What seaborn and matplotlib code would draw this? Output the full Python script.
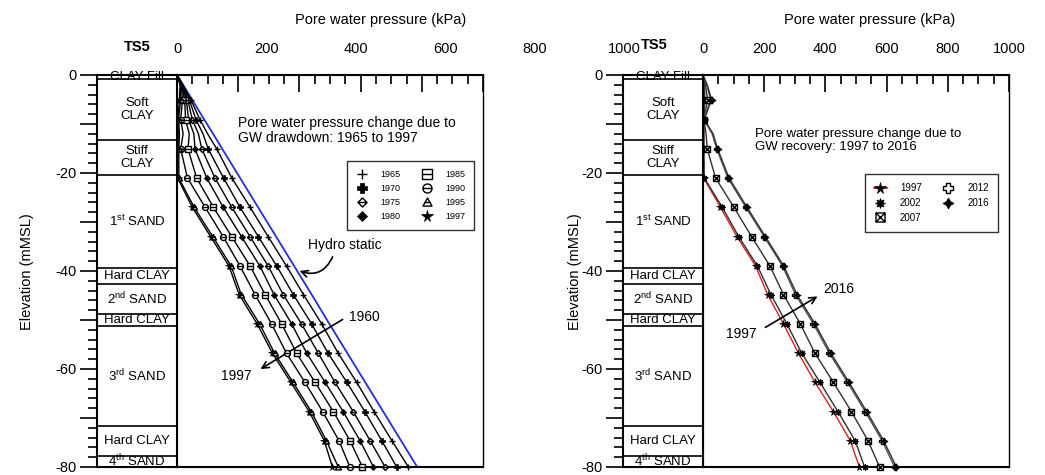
import matplotlib
matplotlib.use("Agg")
import matplotlib.pyplot as plt
from matplotlib.lines import Line2D
from matplotlib.path import Path
from matplotlib.ticker import MultipleLocator, FuncFormatter
import numpy as np
import pandas as pd
import seaborn as sns

# ---- data ----
depth = [0, -2, -5, -9.1, -12, -15.1, -21, -27, -33, -39, -44.8, -50.8,
         -56.8, -62.7, -68.7, -74.6, -80]
marked = [False, False, True, True, False, True, True, True, True, True,
          True, True, True, True, True, True, True]

hydro = [0, 20, 49, 89, 118, 148, 206, 265, 324, 383, 440, 498, 557, 615,
         674, 732, 785]

drawdown_years = [1965, 1970, 1975, 1980, 1985, 1990, 1995, 1997]
pwp_1965 = [0, 19, 45, 75, 100, 130, 179, 239, 298, 358, 413, 473, 527, 587, 644, 702, 756]
pwp_1970 = [0, 18, 40, 62, 85, 102, 152, 206, 266, 326, 380, 440, 494, 555, 614, 669, 718]
pwp_1975 = [0, 17, 35, 50, 70, 81, 124, 179, 239, 298, 347, 407, 462, 516, 576, 631, 680]
pwp_1980 = [0, 16, 30, 38, 55, 59, 97, 151, 211, 271, 317, 375, 424, 484, 543, 598, 642]
pwp_1985 = [0, 15, 25, 28, 40, 36, 64, 119, 179, 239, 288, 342, 391, 451, 511, 565, 606]
pwp_1990 = [0, 14, 18, 12, 20, 12, 34, 92, 151, 206, 255, 309, 358, 418, 476, 529, 565]
pwp_1995 = [0, 12, 12, 5, 8, 6, 6, 56, 117, 177, 210, 270, 319, 379, 439, 488, 527]
pwp_1997 = [0, 10, 8, 3, 4, 3, 2, 50, 110, 170, 203, 262, 312, 372, 432, 481, 508]

recovery_years = [1997, 2002, 2007, 2012, 2016]
rec_1997 = [0, 3, 4, 3, 2, 2, 2, 57, 111, 172, 211, 263, 312, 366, 426, 481, 511]
rec_2002 = [0, 5, 6, 3, 3, 3, 4, 63, 117, 178, 222, 274, 323, 382, 441, 497, 528]
rec_2007 = [0, 8, 15, 3, 10, 14, 41, 101, 159, 219, 263, 318, 366, 426, 485, 539, 577]
rec_2012 = [0, 12, 25, 3, 30, 45, 81, 140, 200, 260, 302, 361, 413, 472, 530, 585, 626]
rec_2016 = [0, 14, 28, 4, 33, 48, 85, 144, 204, 264, 307, 366, 418, 477, 535, 590, 632]

layer_bounds = [0, -0.8, -13.3, -20.4, -39.4, -42.7, -48.7, -51.3, -71.6, -77.7, -80]
layer_names = ["CLAY Fill", "Soft\nCLAY", "Stiff\nCLAY", r"1$^{\mathrm{st}}$ SAND",
               "Hard CLAY", r"2$^{\mathrm{nd}}$ SAND", "Hard CLAY",
               r"3$^{\mathrm{rd}}$ SAND", "Hard CLAY", r"4$^{\mathrm{th}}$ SAND"]

pwp_ticks = [0, 200, 400, 600, 800, 1000]

# ---- style ----
sns.set_theme(style="ticks", rc={
    "axes.edgecolor": "black", "text.color": "black", "axes.labelcolor": "black",
    "xtick.color": "black", "ytick.color": "black", "axes.unicode_minus": False,
})
plt.rcParams["font.family"] = ["Liberation Sans", "DejaVu Sans"]
plt.rcParams["mathtext.fontset"] = "custom"
plt.rcParams["mathtext.rm"] = "Liberation Sans"
plt.rcParams["mathtext.it"] = "Liberation Sans:italic"
plt.rcParams["mathtext.bf"] = "Liberation Sans:bold"

W, H = 1045, 475
TOP, BOT = 75, 467
fig = plt.figure(figsize=(W / 100, H / 100), dpi=100)


def barred(base, half):
    bar = Path([(-half, 0), (half, 0)], [Path.MOVETO, Path.LINETO])
    return Path.make_compound_path(base, bar)


square = Path([(-1, -1), (1, -1), (1, 1), (-1, 1), (-1, -1)], closed=True)
diamond = Path([(0, 1), (1, 0), (0, -1), (-1, 0), (0, 1)], closed=True)
triangle = Path([(0, 1), (1, -0.8), (-1, -0.8), (0, 1)], closed=True)
xsquare = Path.make_compound_path(
    square,
    Path([(-1, -1), (1, 1)], [Path.MOVETO, Path.LINETO]),
    Path([(-1, 1), (1, -1)], [Path.MOVETO, Path.LINETO]))

draw_marks = {
    1965: dict(marker="+", mfc="black", mew=1.0),
    1970: dict(marker="P", mfc="black", mew=0.5),
    1975: dict(marker=barred(diamond, 1), mfc="white", mew=1.0),
    1980: dict(marker="D", mfc="black", mew=0.5, ms_scale=0.75),
    1985: dict(marker=barred(square, 1), mfc="white", mew=1.0),
    1990: dict(marker=barred(Path.unit_circle(), 1), mfc="white", mew=1.0),
    1995: dict(marker=barred(triangle, 0.6), mfc="white", mew=1.0),
    1997: dict(marker="*", mfc="black", mew=0.5, ms_scale=1.3),
}
rec_marks = {
    1997: dict(marker="*", mfc="black", mew=0.5, ms_scale=1.3),
    2002: dict(marker=(8, 1, 0), mfc="black", mew=0.6, ms_scale=1.1),
    2007: dict(marker=xsquare, mfc="white", mew=1.0),
    2012: dict(marker="P", mfc="white", mew=1.0, ms_scale=1.1),
    2016: dict(marker=(4, 1, 0), mfc="black", mew=0.6, ms_scale=1.2),
}


def soil_column(rect, ax_main):
    sax = fig.add_axes(rect, sharey=ax_main)
    sax.set_xlim(0, 1)
    sax.set_xticks([])
    for b in layer_bounds[1:-1]:
        sax.axhline(b, color="black", lw=1.2)
    for top, bot, name in zip(layer_bounds[:-1], layer_bounds[1:], layer_names):
        sax.text(0.5, (top + bot) / 2, name, ha="center", va="center",
                 fontsize=9.5, linespacing=1.15)
    for s in sax.spines.values():
        s.set_linewidth(1.5)
    sax.yaxis.set_major_locator(MultipleLocator(10))
    sax.yaxis.set_minor_locator(MultipleLocator(2))
    sax.yaxis.set_major_formatter(
        FuncFormatter(lambda v, p: f"{v:.0f}" if round(v) % 20 == 0 else ""))
    sax.tick_params(axis="y", which="major", direction="out", length=12,
                    width=1.2, pad=3, labelsize=10.5)
    sax.tick_params(axis="y", which="minor", direction="out", length=6.5,
                    width=1.2)
    return sax


def main_axes(rect):
    ax = fig.add_axes(rect)
    ax.set_xlim(0, 1000)
    ax.set_ylim(-80, 0)
    ax.xaxis.tick_top()
    ax.xaxis.set_major_locator(MultipleLocator(200))
    ax.xaxis.set_minor_locator(MultipleLocator(50))
    ax.tick_params(axis="x", which="major", direction="in", length=12,
                   width=1.2, labeltop=False)
    ax.tick_params(axis="x", which="minor", direction="in", length=6.5,
                   width=1.2)
    ax.tick_params(axis="y", left=False, labelleft=False)
    for s in ax.spines.values():
        s.set_linewidth(1.0)
    ax.spines["top"].set_linewidth(1.5)
    ax.spines["left"].set_linewidth(1.5)
    ax.spines["bottom"].set_linewidth(1.5)
    return ax


def draw_profiles(ax, years, series, colors, marks, ms=4.3):
    df = pd.DataFrame({
        "depth": np.tile(depth, len(years)),
        "pwp": np.concatenate(series),
        "year": np.repeat(years, len(depth)),
    })
    sns.lineplot(data=df, x="pwp", y="depth", hue="year", palette=colors,
                 orient="y", sort=False, estimator=None, legend=False,
                 lw=1.0, ax=ax)
    handles = []
    for y, vals in zip(years, series):
        m = dict(marks[y])
        scale = m.pop("ms_scale", 1.0)
        px = [v for v, k in zip(vals, marked) if k]
        py = [d for d, k in zip(depth, marked) if k]
        ax.plot(px, py, ls="none", color="black", mec="black",
                ms=ms * scale, zorder=4, clip_on=False, **m)
        handles.append(Line2D([], [], ls="none", color="black", mec="black",
                              ms=6.5 * scale, label=str(y), **m))
    ax.set_xlabel("")
    ax.set_ylabel("")
    return handles


rect_h = (BOT - TOP) / H
rect_b = 1 - BOT / H

# ---- left panel: drawdown ----
axL = main_axes([177 / W, rect_b, 306 / W, rect_h])
soil_column([97 / W, rect_b, 80 / W, rect_h], axL)
sns.lineplot(x=hydro, y=depth, orient="y", sort=False, estimator=None,
             color="#1f2fe0", lw=1.3, ax=axL)
hL = draw_profiles(axL, drawdown_years,
                   [pwp_1965, pwp_1970, pwp_1975, pwp_1980, pwp_1985,
                    pwp_1990, pwp_1995, pwp_1997],
                   {y: "black" for y in drawdown_years}, draw_marks)
axL.set_xlim(0, 1000)
axL.set_ylim(-80, 0)

# tick labels of the left panel sit on a wider scale than the tick marks
lab = fig.add_axes([177 / W, 1 - TOP / H, 447 / W, 1e-4])
lab.set_xlim(0, 1000)
lab.xaxis.tick_top()
lab.set_xticks(pwp_ticks)
lab.tick_params(axis="x", length=0, pad=14, labelsize=10.5)
lab.set_yticks([])
for s in lab.spines.values():
    s.set_visible(False)
lab.patch.set_visible(False)

legL = axL.legend(handles=hL, ncol=2, loc="upper left",
                  bbox_to_anchor=(0.542, 0.792), fontsize=6.5,
                  frameon=True, fancybox=False, edgecolor="black",
                  handlelength=1.2, handletextpad=1.4, columnspacing=2.4,
                  labelspacing=0.55, borderpad=1.0)
legL.get_frame().set_linewidth(1.0)

axL.text(199, -11.3, "Pore water pressure change due to\nGW drawdown: 1965 to 1997",
         ha="left", va="center", fontsize=10, linespacing=1.1)
axL.text(428, -34.6, "Hydro static", ha="left", va="center", fontsize=10)
axL.annotate("", xy=(392, -39.8), xytext=(512, -36.6),
             arrowprops=dict(arrowstyle="->", lw=1.2, color="black",
                             connectionstyle="arc3,rad=-0.5"))
axL.text(611, -49.4, "1960", ha="center", va="center", fontsize=10)
axL.text(195, -61.4, "1997", ha="center", va="center", fontsize=10)
axL.annotate("", xy=(265, -60.3), xytext=(549, -49.6),
             arrowprops=dict(arrowstyle="->", lw=1.2, color="black"))

# ---- right panel: recovery ----
axR = main_axes([703 / W, rect_b, 306 / W, rect_h])
soil_column([623 / W, rect_b, 80 / W, rect_h], axR)
hR = draw_profiles(axR, recovery_years,
                   [rec_1997, rec_2002, rec_2007, rec_2012, rec_2016],
                   {1997: "#e0201a", 2002: "#303030", 2007: "#303030",
                    2012: "#555555", 2016: "#303030"}, rec_marks)
hR[0].set_linestyle("-")
hR[0].set_color("#e0201a")
hR[0].set_markerfacecolor("black")
hR[0].set_markeredgecolor("black")
axR.set_xlim(0, 1000)
axR.set_ylim(-80, 0)
axR.set_xticks(pwp_ticks)
axR.tick_params(axis="x", which="major", labeltop=True, pad=14, labelsize=10.5)

legR = axR.legend(handles=hR, ncol=2, loc="upper left",
                  bbox_to_anchor=(0.513, 0.759), fontsize=7,
                  frameon=True, fancybox=False, edgecolor="black",
                  handlelength=1.4, handletextpad=1.3, columnspacing=2.0,
                  labelspacing=0.5, borderpad=0.9)
legR.get_frame().set_linewidth(1.0)

axR.text(170, -13.3, "Pore water pressure change due to\nGW recovery: 1997 to 2016",
         ha="left", va="center", fontsize=9.5, linespacing=1.1)
axR.text(392, -43.7, "2016", ha="left", va="center", fontsize=10)
axR.text(176, -52.8, "1997", ha="right", va="center", fontsize=10)
axR.annotate("", xy=(382, -44.9), xytext=(196, -51.8),
             arrowprops=dict(arrowstyle="->", lw=1.2, color="black"))

# ---- figure-level labels ----
for cx, ly in [(381, 20), (870, 20)]:
    fig.text(cx / W, 1 - ly / H, "Pore water pressure (kPa)", ha="center",
             va="center", fontsize=10.5)
for cx in [27, 575]:
    fig.text(cx / W, 1 - 272 / H, "Elevation (mMSL)", rotation=90,
             ha="center", va="center", fontsize=10.5)
for cx, ly in [(137, 47), (654, 45)]:
    fig.text(cx / W, 1 - ly / H, "TS5", ha="center", va="center",
             fontsize=10.5, fontweight="bold")

fig.savefig("out.png", dpi=100)
